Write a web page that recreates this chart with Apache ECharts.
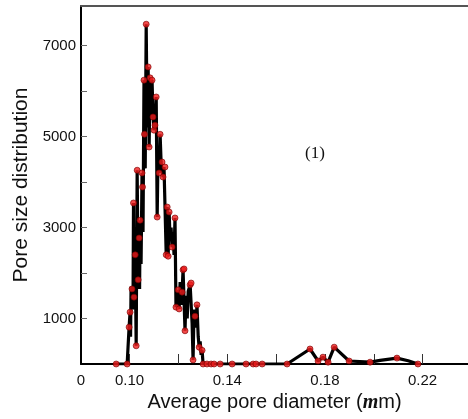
<!DOCTYPE html>
<html>
<head>
<meta charset="utf-8">
<script src="https://cdn.jsdelivr.net/npm/echarts@6/dist/echarts.min.js"></script>
<style>
  html, body { margin: 0; padding: 0; background: #fff; }
  #chart { width: 468px; height: 419px; }
</style>
</head>
<body>
<div id="chart"></div>
<script>
// pore size distribution trace (diameter in um, count)
var traceX = [0.0937, 0.0945, 0.0965, 0.0990, 0.0994, 0.0998, 0.1002, 0.1004, 0.1006, 0.1010,
  0.1014, 0.1016, 0.1018, 0.1023, 0.1027, 0.1031, 0.1035, 0.1039, 0.1041, 0.1043,
  0.1047, 0.1051, 0.1053, 0.1055, 0.1059, 0.1061, 0.1064, 0.1068, 0.1072, 0.1076,
  0.1080, 0.1084, 0.1086, 0.1088, 0.1092, 0.1096, 0.1100, 0.1104, 0.1109, 0.1113,
  0.1117, 0.1121, 0.1125, 0.1129, 0.1133, 0.1137, 0.1141, 0.1145, 0.1150, 0.1154,
  0.1158, 0.1162, 0.1166, 0.1170, 0.1174, 0.1178, 0.1182, 0.1186, 0.1190, 0.1195,
  0.1199, 0.1203, 0.1207, 0.1211, 0.1215, 0.1219, 0.1223, 0.1227, 0.1231, 0.1236,
  0.1240, 0.1244, 0.1248, 0.1252, 0.1256, 0.1260, 0.1264, 0.1268, 0.1272, 0.1276,
  0.1281, 0.1285, 0.1289, 0.1293, 0.1297, 0.1301, 0.1317, 0.1334, 0.1346, 0.1371,
  0.1420, 0.1477, 0.1506, 0.1518, 0.1543, 0.1645, 0.1739, 0.1772, 0.1792, 0.1813,
  0.1838, 0.1899, 0.1985, 0.2026, 0.2095, 0.2141, 0.2181];
var traceY = [0, 0, 0, 0, 0, 810, 1140, 600, 1700, 1650,
  1200, 3540, 1470, 2400, 400, 4260, 1850, 2770, 1650, 3160,
  2200, 4200, 3890, 2900, 6240, 5050, 4300, 7470, 5200, 6530,
  4770, 6290, 5400, 6100, 6240, 5430, 5140, 5250, 5870, 3230,
  4800, 4200, 5050, 4440, 4440, 4110, 4330, 4330, 2400, 3450,
  2370, 3340, 2700, 3000, 2570, 2900, 2400, 3210, 1250, 1250,
  1630, 1210, 1800, 1300, 1580, 2070, 2090, 730, 1500, 1000,
  1600, 1600, 1740, 1780, 900, 90, 1200, 1050, 800, 1300,
  600, 370, 500, 200, 300, 0, 0, 0, 0, 0,
  0, 0, 0, 0, 0, 0, 330, 66, 150, 40,
  370, 66, 40, 80, 130, 70, 0];

// measured points shown with red dots
var dotX = [0.0945, 0.0990, 0.0998, 0.1002, 0.1010, 0.1016, 0.1018, 0.1023, 0.1027, 0.1031,
  0.1035, 0.1039, 0.1043, 0.1051, 0.1053, 0.1059, 0.1061, 0.1068, 0.1076, 0.1080,
  0.1084, 0.1092, 0.1096, 0.1100, 0.1104, 0.1109, 0.1113, 0.1121, 0.1125, 0.1133,
  0.1137, 0.1145, 0.1150, 0.1154, 0.1158, 0.1162, 0.1174, 0.1186, 0.1190, 0.1199,
  0.1203, 0.1215, 0.1219, 0.1223, 0.1227, 0.1248, 0.1252, 0.1260, 0.1268, 0.1276,
  0.1285, 0.1297, 0.1301, 0.1317, 0.1334, 0.1346, 0.1371, 0.1420, 0.1477, 0.1506,
  0.1518, 0.1543, 0.1645, 0.1739, 0.1772, 0.1792, 0.1813, 0.1838, 0.1899, 0.1985,
  0.2095, 0.2181];
var dotY = [0, 0, 810, 1140, 1650, 3540, 1470, 2400, 400, 4260,
  1850, 2770, 3160, 4200, 3890, 6240, 5050, 7470, 6530, 4770,
  6290, 6240, 5430, 5140, 5250, 5870, 3230, 4200, 5050, 4440,
  4110, 4330, 2400, 3450, 2370, 3340, 2570, 3210, 1250, 1630,
  1210, 1580, 2070, 2090, 730, 1740, 1780, 90, 1050, 1300,
  370, 300, 0, 0, 0, 0, 0, 0, 0, 0,
  0, 0, 0, 330, 66, 150, 40, 370, 66, 40,
  130, 0];

var xLabelValues = [0.0801, 0.10, 0.14, 0.18, 0.22];
var xTickValues = [0.10, 0.12, 0.14, 0.16, 0.18, 0.20, 0.22];
var yLabelValues = [1000, 3000, 5000, 7000];
var yTickValues = [1000, 2000, 3000, 4000, 5000, 6000, 7000];

var xMin = 0.0801, xMax = 0.2386;

function zip(xs, ys) {
  return xs.map(function (x, i) { return [x, ys[i]] })
}

var chart = echarts.init(document.getElementById('chart'))
var labelFont = { fontFamily: 'Liberation Sans, Arial, sans-serif', fontSize: 15, color: '#111' }

chart.setOption({
  animation: false,
  grid: { left: 81, right: 0, top: 6, bottom: 55 },
  xAxis: [{
    type: 'value',
    min: xMin,
    max: xMax,
    splitLine: { show: false },
    axisLine: { lineStyle: { color: '#000', width: 2 } },
    axisTick: { inside: true, length: 10, customValues: xTickValues, lineStyle: { color: '#333', width: 1 } },
    axisLabel: Object.assign({
      margin: 9,
      customValues: xLabelValues,
      formatter: function (v) { return v < 0.09 ? '0' : v.toFixed(2) }
    }, labelFont),
    name: 'Average pore diameter ({mu|m}m)',
    nameLocation: 'middle',
    nameGap: 25,
    nameTextStyle: {
      fontFamily: 'Liberation Sans, Arial, sans-serif',
      fontSize: 20,
      color: '#111',
      rich: {
        mu: { fontFamily: 'Liberation Serif, serif', fontStyle: 'italic', fontWeight: 'bold', fontSize: 20, color: '#111' }
      }
    }
  }, {
    type: 'value',
    position: 'top',
    min: xMin,
    max: xMax,
    splitLine: { show: false },
    axisLine: { lineStyle: { color: '#555', width: 2 } },
    axisTick: { show: false },
    axisLabel: { show: false }
  }],
  yAxis: {
    type: 'value',
    min: 0,
    max: 7870,
    splitLine: { show: false },
    axisLine: { lineStyle: { color: '#000', width: 2 } },
    axisTick: { inside: true, length: 6, customValues: yTickValues, lineStyle: { color: '#666', width: 1 } },
    axisLabel: Object.assign({
      margin: 5,
      customValues: yLabelValues,
      formatter: function (v) { return String(v) }
    }, labelFont),
    name: 'Pore size distribution',
    nameLocation: 'middle',
    nameGap: 49,
    nameTextStyle: { fontFamily: 'Liberation Sans, Arial, sans-serif', fontSize: 21, color: '#111' }
  },
  graphic: [{
    type: 'text',
    left: 305,
    top: 145,
    style: { text: '(1)', fontFamily: 'Liberation Serif, serif', fontSize: 17, fill: '#111' }
  }],
  series: [{
    type: 'line',
    data: zip(traceX, traceY),
    symbol: 'none',
    lineStyle: { color: '#000', width: 3.2 },
    z: 2
  }, {
    type: 'scatter',
    data: zip(dotX, dotY),
    symbol: 'circle',
    symbolSize: 6,
    itemStyle: { color: '#ee1c1c', borderColor: '#7a0000', borderWidth: 0.8 },
    z: 3
  }]
})
</script>
</body>
</html>
